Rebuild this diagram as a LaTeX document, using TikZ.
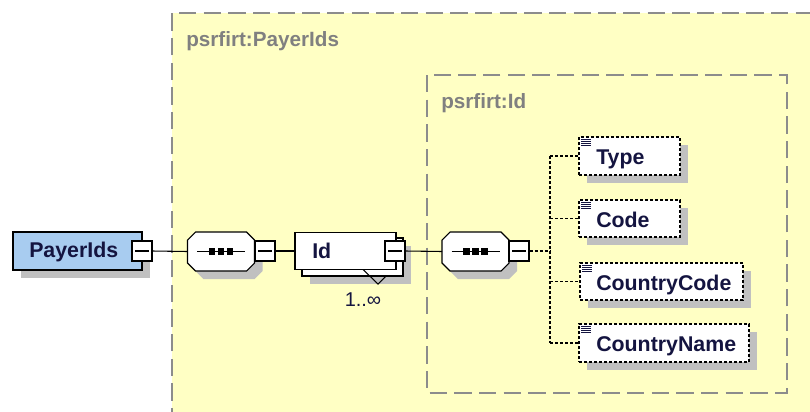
\documentclass[tikz,border=0pt]{standalone}
\usepackage{fontspec}
\setmainfont{Liberation Sans}
\usetikzlibrary{shadows}
\definecolor{bgyellow}{RGB}{255,255,196}
\definecolor{boxblue}{RGB}{168,204,240}
\definecolor{shadowgray}{RGB}{192,192,192}
\definecolor{framegray}{RGB}{140,140,140}
\definecolor{labelgray}{RGB}{128,128,128}
\definecolor{navy}{RGB}{20,20,64}
\def\pxu{0.75pt}
% octagon outline around a named node, shifted by (#2,#3)
\newcommand{\octpath}[3]{([shift={({#2+6pt},{#3})}]#1.north west) -- ([shift={({#2-6pt},{#3})}]#1.north east) -- ([shift={({#2},{#3-6pt})}]#1.north east) -- ([shift={({#2},{#3+6pt})}]#1.south east) -- ([shift={({#2-6pt},{#3})}]#1.south east) -- ([shift={({#2+6pt},{#3})}]#1.south west) -- ([shift={({#2},{#3+6pt})}]#1.south west) -- ([shift={({#2},{#3-6pt})}]#1.north west) -- cycle}
\newcommand{\seqdraw}[1]{%
  \fill[shadowgray] \octpath{#1}{6pt}{-6pt};
  \draw[fill=white, line width=0.8pt] \octpath{#1}{0pt}{0pt};
  \draw[line width=0.8pt] ([xshift=-18pt]#1.center) -- ([xshift=18pt]#1.center);
  \foreach \d in {-6.75,0,6.75}{
    \fill ([shift={(\d pt-2.6pt,-2.6pt)}]#1.center) rectangle ([shift={(\d pt+2.6pt,2.6pt)}]#1.center);
  }%
}
\begin{document}
\begin{tikzpicture}[x=0.75pt,y=-0.75pt,
  flatshadow/.style={general shadow={fill=shadowgray, draw=none, solid, shadow xshift=6pt, shadow yshift=-6pt}},
  frame/.style={draw=framegray, line width=1pt, dash pattern=on 13pt off 5.5pt},
  glabel/.style={font=\bfseries\fontsize{15.5}{18}\selectfont, text=labelgray, inner sep=0pt, anchor=base west},
  ename/.style={font=\bfseries\fontsize{16}{18}\selectfont, text=navy, inner sep=0pt, anchor=base west},
  rootbox/.style={draw=black, fill=boxblue, line width=0.8pt, inner sep=0pt, flatshadow},
  solidbox/.style={draw=black, fill=white, line width=0.8pt, inner sep=0pt},
  elem/.style={draw=black, fill=white, line width=0.8pt, dash pattern=on 2.25pt off 1.5pt, inner sep=0pt, flatshadow},
  minusbox/.style={draw=black, fill=white, line width=0.8pt, inner sep=0pt,
    minimum width=20*\pxu, minimum height=20*\pxu,
    path picture={\draw[line width=0.8pt] ([xshift=2.5pt]path picture bounding box.west) -- ([xshift=-2.5pt]path picture bounding box.east);}},
  seqbox/.style={rectangle, draw=none, inner sep=0pt, outer sep=0pt,
    minimum width=67*\pxu, minimum height=39*\pxu},
  conn/.style={draw=black, line width=0.8pt},
  dconn/.style={draw=black, line width=0.8pt, dash pattern=on 2.25pt off 1.5pt},
  occ/.style={font=\fontsize{15}{18}\selectfont, text=navy, inner sep=0pt}
]
\useasboundingbox (0,0) rectangle (810,411);
\fill[white] (0,0) rectangle (810,411);
\begin{scope}
  \clip (0,0) rectangle (810,411);
  \fill[bgyellow] (172,13) rectangle (850,450);
  \draw[frame] (172,450) -- (172,13) -- (850,13);
\end{scope}
\draw[frame] (427,75) rectangle (787,393);

\node[glabel] (lblouter) at (186,46) {psrfirt:PayerIds};
\node[glabel] (lblinner) at (441,108) {psrfirt:Id};

% root element
\node[rootbox, minimum width=129*\pxu, minimum height=38*\pxu] (root) at (77.5,251) {};
\node[ename] (roottxt) at (29,257.5) {PayerIds};
\node[minusbox] (rootsq) at (142,251) {};

% sequence 1
\node[seqbox] (seq1) at (221,251.5) {};
\seqdraw{seq1}
\node[minusbox] (seq1sq) at (265,251) {};

% Id element (repeated)
\node[solidbox, flatshadow, minimum width=101*\pxu, minimum height=38*\pxu] (idback) at (352.5,257) {};
\draw[line width=0.8pt] (363,269.5) -- (378,284) -- (386,276);
\node[solidbox, minimum width=101*\pxu, minimum height=37*\pxu] (id) at (345.5,251) {};
\node[ename] (idtxt) at (312,258) {Id};
\node[minusbox] (idsq) at (395,251) {};
\node[occ] (idocc) at (363,300) {1..∞};

% sequence 2
\node[seqbox] (seq2) at (475.5,251.5) {};
\seqdraw{seq2}
\node[minusbox] (seq2sq) at (519,251) {};

% child elements
\node[elem, minimum width=101*\pxu, minimum height=38*\pxu] (type) at (629.5,156) {};
\node[elem, minimum width=101*\pxu, minimum height=37*\pxu] (code) at (629.5,218.5) {};
\node[elem, minimum width=163*\pxu, minimum height=37*\pxu] (ccode) at (661.5,281.5) {};
\node[elem, minimum width=170*\pxu, minimum height=38*\pxu] (cname) at (664,343) {};
\node[ename] (typetxt) at (596,164.5) {Type};
\node[ename] (codetxt) at (596,227) {Code};
\node[ename] (ccodetxt) at (596,290) {CountryCode};
\node[ename] (cnametxt) at (596,351.5) {CountryName};
\foreach \n in {type,code,ccode,cname}{
  \foreach \k in {0,1,2,3}{
    \draw[line width=0.6pt, navy] ([xshift=2.2pt, yshift={-(2+1.5*\k)*1pt}]\n.north west) -- ++(7.2pt,0);
  }
}

% connectors
\coordinate (spine) at (550,251);
\draw[conn] (rootsq.east) -- (seq1.west);
\draw[conn] (seq1sq.east) -- (id.west);
\draw[conn] (idsq.east) -- (seq2.west);
\draw[dconn] (seq2sq.east) -- (spine);
\draw[dconn] (spine |- type.west) -- (spine |- cname.west);
\foreach \n in {type,code,ccode,cname}{
  \draw[dconn] (spine |- \n.west) -- (\n.west);
}
\end{tikzpicture}
\end{document}
